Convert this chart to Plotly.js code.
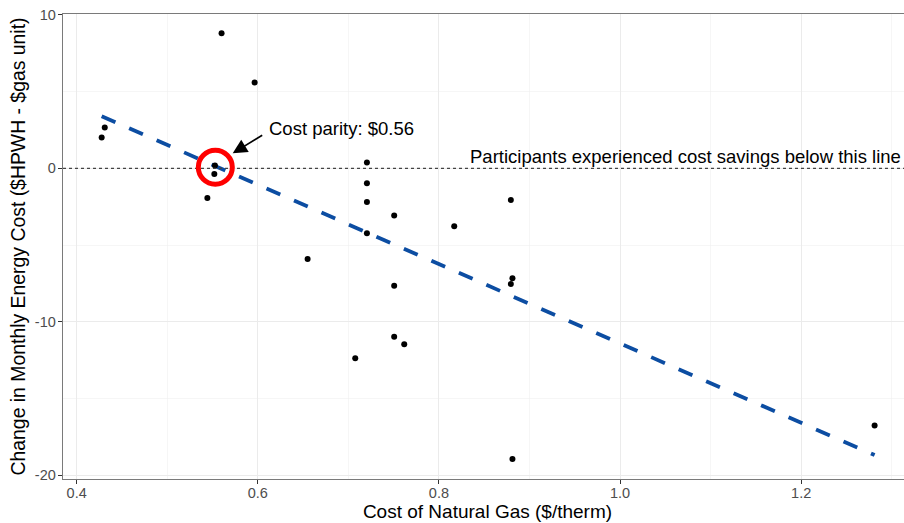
<!DOCTYPE html>
<html>
<head>
<meta charset="utf-8">
<script src="https://cdn.plot.ly/plotly-3.0.1.min.js"></script>
<style>
html,body{margin:0;padding:0;overflow:hidden;background:#fff;}
#chart{width:912px;height:523px;}
</style>
</head>
<body>
<div id="chart"></div>
<script>
// Participant data: cost of natural gas ($/therm) vs change in monthly energy cost
const gasCost = [0.4276, 0.431, 0.560, 0.5965, 0.5527, 0.552, 0.5443,
  0.7205, 0.7205, 0.7205, 0.7506, 0.7205, 0.8169, 0.8794, 0.655,
  0.7506, 0.8812, 0.8794, 0.7506, 0.7617, 0.7076, 1.2811, 0.8812];
const costChange = [2.0, 2.65, 8.79, 5.59, 0.18, -0.37, -1.93,
  0.37, -0.98, -2.19, -3.07, -4.24, -3.78, -2.06, -5.91,
  -7.65, -7.17, -7.54, -10.98, -11.46, -12.37, -16.76, -18.94];

// Fitted linear trend
const fitX = [0.4276, 1.2811];
const fitY = [3.39, -18.68];

// Axis ticks
const xTicks = [0.4, 0.6, 0.8, 1.0, 1.2];
const xTickText = ["0.4", "0.6", "0.8", "1.0", "1.2"];
const yTicks = [10, 0, -10, -20];
const yTickText = ["10", "0", "-10", "-20"];

const parityX = 0.56;

const FONT = "Arial, 'Liberation Sans', sans-serif";

const traces = [
  {
    x: fitX, y: fitY, type: "scatter", mode: "lines",
    line: {color: "#0c4da2", width: 3.8, dash: "15px,15px"},
    hoverinfo: "skip", showlegend: false
  },
  {
    x: gasCost, y: costChange, type: "scatter", mode: "markers",
    marker: {color: "#000", size: 6},
    showlegend: false
  }
];

const layout = {
  width: 912, height: 523,
  margin: {l: 63, r: 0, t: 14, b: 44},
  paper_bgcolor: "#fff", plot_bgcolor: "#fff",
  font: {family: FONT, color: "#000"},
  showlegend: false,
  xaxis: {
    range: [0.3849, 1.3224],
    tickvals: xTicks, ticktext: xTickText,
    tickfont: {size: 14.5, color: "#4d4d4d", family: FONT},
    ticks: "outside", ticklen: 4, tickcolor: "#333", tickwidth: 1,
    ticklabelstandoff: -4,
    showgrid: true, gridcolor: "#ebebeb", gridwidth: 1,
    minor: {dtick: 0.2, tick0: 0.5, showgrid: true, gridcolor: "#f0f0f0", gridwidth: 0.6, ticks: ""},
    showline: true, linecolor: "#7a7a7a", linewidth: 1.3, mirror: true,
    zeroline: false,
    title: {text: "Cost of Natural Gas ($/therm)", font: {size: 19, color: "#000", family: FONT}, standoff: 2}
  },
  yaxis: {
    range: [-20.24, 10.05],
    tickvals: yTicks, ticktext: yTickText,
    tickfont: {size: 14.5, color: "#4d4d4d", family: FONT},
    ticks: "outside", ticklen: 4, tickcolor: "#333", tickwidth: 1,
    ticklabelstandoff: -1,
    showgrid: true, gridcolor: "#ebebeb", gridwidth: 1,
    minor: {dtick: 10, tick0: 5, showgrid: true, gridcolor: "#f0f0f0", gridwidth: 0.6, ticks: ""},
    showline: true, linecolor: "#7a7a7a", linewidth: 1.3, mirror: true,
    zeroline: false,
    title: {text: "Change in Monthly Energy Cost ($HPWH - $gas unit)", font: {size: 19.4, color: "#000", family: FONT}, standoff: 4}
  },
  shapes: [
    {type: "line", xref: "paper", x0: 0, x1: 1, yref: "y", y0: 0, y1: 0,
     line: {color: "#444", width: 1.2, dash: "dot"}},
    {type: "circle", xref: "x", yref: "y", xsizemode: "pixel", ysizemode: "pixel",
     xanchor: 0.5531, yanchor: 0.065, x0: -17, x1: 17, y0: -17, y1: 17,
     line: {color: "#ff0000", width: 5}}
  ],
  annotations: [
    {x: 0.5723, y: 0.977, xref: "x", yref: "y", text: "", showarrow: true,
     ax: 31, ay: -19, arrowhead: 2, arrowsize: 1.8, arrowwidth: 1.6, arrowcolor: "#000"},
    {x: 0.6101, y: 2.56, xref: "x", yref: "y", text: "Cost parity: $" + parityX.toFixed(2),
     showarrow: false, xanchor: "left", yanchor: "middle",
     font: {size: 18.5, color: "#000", family: FONT}},
    {x: 1.3124, y: 0.74, xref: "x", yref: "y",
     text: "Participants experienced cost savings below this line",
     showarrow: false, xanchor: "right", yanchor: "middle",
     font: {size: 18.5, color: "#000", family: FONT}}
  ]
};

Plotly.newPlot("chart", traces, layout, {displayModeBar: false, staticPlot: true});
</script>
</body>
</html>
